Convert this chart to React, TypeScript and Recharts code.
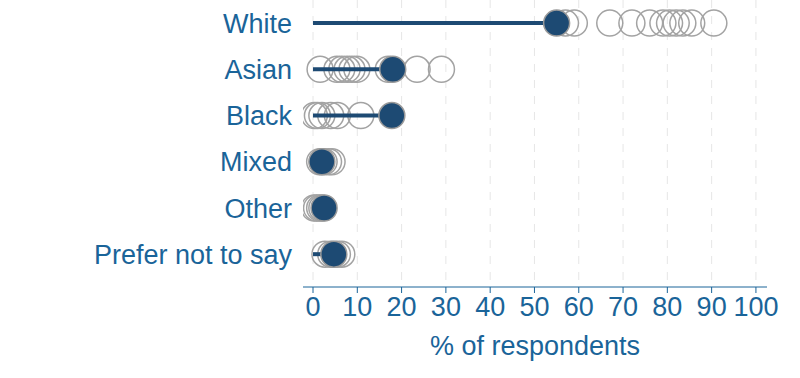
import React from "react";
import {
  ScatterChart,
  Scatter,
  XAxis,
  YAxis,
  CartesianGrid,
} from "recharts";

// ethnicity categories, top to bottom
const categories = ["White", "Asian", "Black", "Mixed", "Other", "Prefer not to say"];

// highlighted value for each category (% of respondents)
const mainValues = [55, 18, 17.8, 2, 2.5, 4.7];

// comparison values (grey rings) per category
const whiteOthers = [57, 59, 67, 72, 76, 79, 80.5, 82, 83.5, 85.5, 90.5];
const asianOthers = [1.6, 5.4, 6.5, 7.7, 8.8, 9.9, 17, 23.5, 29];
const blackOthers = [0.3, 1, 2, 4, 5.5, 10.8];
const mixedOthers = [1.5, 2.5, 3.5, 4.3];
const otherOthers = [0.3, 0.8, 1.5, 2];
const preferOthers = [2.7, 4, 5.5, 6.5];

const xTicks = [0, 10, 20, 30, 40, 50, 60, 70, 80, 90, 100];

const otherLists = [whiteOthers, asianOthers, blackOthers, mixedOthers, otherOthers, preferOthers];

const greyData = otherLists.flatMap((vals, i) => vals.map((v) => ({ x: v, y: i })));
const mainData = mainValues.map((v, i) => ({ x: v, y: i }));
const stems = mainValues.map((v, i) => [
  { x: 0, y: i },
  { x: v, y: i },
]);

const BLUE_TEXT = "#1a6499";
const DARK = "#1d4a73";

const GreyRing = (p: any) => (
  <circle cx={p.cx} cy={p.cy} r={13} fill="none" stroke="#a3a3a3" strokeWidth={1.5} />
);
const MainDot = (p: any) => (
  <circle cx={p.cx} cy={p.cy} r={13} fill={DARK} stroke="#9a9a9a" strokeWidth={1.5} />
);
const NoDot = () => <g />;

export default function App() {
  return (
    <div style={{ position: "absolute", left: 0, top: 0 }}>
      <ScatterChart
        width={800}
        height={378}
        margin={{ top: 0, right: 33, bottom: 0, left: 0 }}
        style={{ fontFamily: "Liberation Sans, Arial, sans-serif" }}
      >
        <CartesianGrid
          horizontal={false}
          verticalValues={xTicks}
          stroke="#e6e6e6"
          strokeDasharray="8 8"
        />
        <XAxis
          type="number"
          dataKey="x"
          domain={[-2.26, 102.5]}
          ticks={xTicks}
          allowDataOverflow
          height={91}
          stroke={BLUE_TEXT}
          tick={{ fill: BLUE_TEXT, fontSize: 27 }}
          tickSize={6}
          tickMargin={4}
          label={{
            value: "% of respondents",
            position: "insideBottom",
            offset: 23,
            fill: BLUE_TEXT,
            fontSize: 27,
          }}
        />
        <YAxis
          type="number"
          dataKey="y"
          reversed
          domain={[-0.5, 5.71]}
          ticks={[0, 1, 2, 3, 4, 5]}
          allowDataOverflow
          width={303}
          axisLine={false}
          tickLine={false}
          tickSize={0}
          tickMargin={11}
          tickFormatter={(v: number) => categories[v] ?? ""}
          tick={{ fill: BLUE_TEXT, fontSize: 27 }}
        />
        <Scatter data={greyData} shape={GreyRing} isAnimationActive={false} />
        {stems.map((s, i) => (
          <Scatter
            key={i}
            data={s}
            line={{ stroke: DARK, strokeWidth: 4 }}
            shape={NoDot}
            isAnimationActive={false}
          />
        ))}
        <Scatter data={mainData} shape={MainDot} isAnimationActive={false} />
      </ScatterChart>
    </div>
  );
}
